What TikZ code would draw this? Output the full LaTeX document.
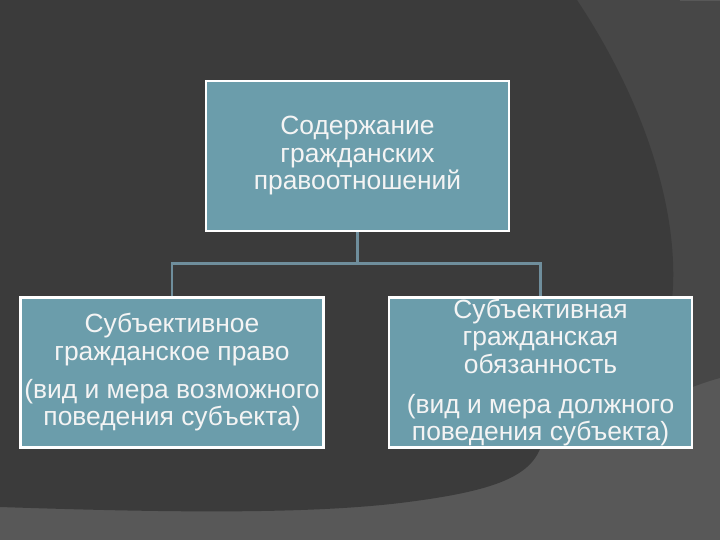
\documentclass[tikz,border=0pt]{standalone}
\usepackage{fontspec}
\setmainfont{Liberation Sans}
\usetikzlibrary{positioning}
\definecolor{bgdark}{HTML}{3B3B3B}
\definecolor{bgmid}{HTML}{474747}
\definecolor{bglight}{HTML}{585858}
\definecolor{boxfill}{HTML}{6B9DAB}
\definecolor{linkcol}{HTML}{6F8E9C}
\definecolor{txt}{HTML}{F4F4F4}

\begin{document}
\begin{tikzpicture}[x=1pt,y=-1pt,
	box/.style={draw=white,line width=2.5pt,fill=boxfill,text=txt,align=center,inner sep=0pt,
		minimum width=303pt,minimum height=150pt,font=\fontsize{26.4}{27.5}\selectfont},
	link/.style={draw=linkcol,line width=2.5pt}]
	% background
	\fill[bglight] (0,0) rectangle (720,540);
	\fill[bgmid] (560,0) -- (720,0) -- (720,378) .. controls (705,382) and (695,386) .. (680,392)
		-- (600,420) -- (560,300) -- cycle;
	\fill[bglight] (680,0) rectangle (720,1.5);
	\fill[bgdark] (0,0) -- (577,0) .. controls (650,110) and (680,220) .. (672,300)
		.. controls (670,360) and (564,391) .. (540,449)
		.. controls (528,478) and (490,492) .. (400,503)
		.. controls (300,515) and (150,512) .. (0,507) -- cycle;
	\useasboundingbox (0,0) rectangle (720,540);

	\node[box] (content) at (357.5,156) {Содержание\\гражданских\\правоотношений};
	\node[box,below=64pt of content,xshift=-185.5pt] (right) {Субъективное\\гражданское право\\[10.5pt]
		(вид и мера возможного\\поведения субъекта)};
	\node[box,below=64pt of content,xshift=183pt] (duty) {Субъективная\\гражданская\\обязанность\\[12.5pt]
		(вид и мера должного\\поведения субъекта)};

	\draw[link] (content.south) -- ++(0,31) coordinate (fork);
	\draw[link] (right.north) |- (fork) -| (duty.north);
\end{tikzpicture}
\end{document}
